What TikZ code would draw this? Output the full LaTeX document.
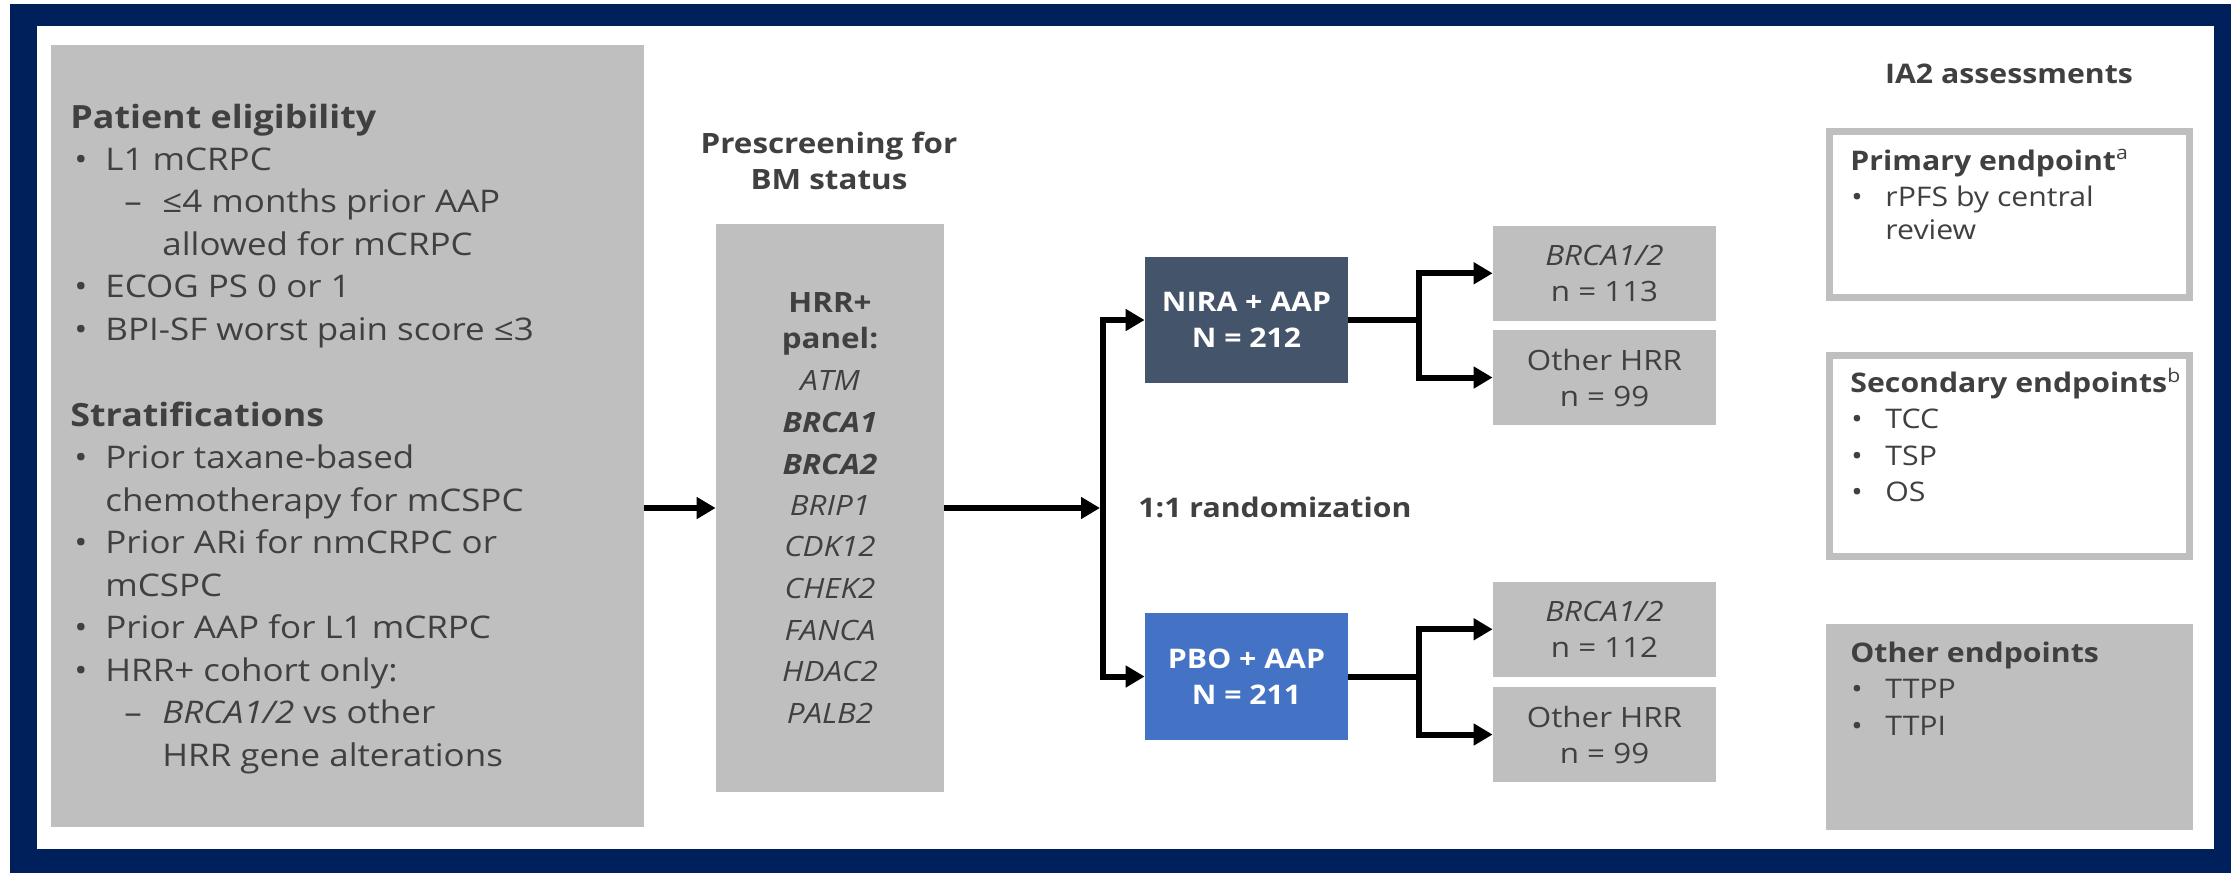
\documentclass[tikz,border=0pt]{standalone}
\usepackage{fontspec}
\setmainfont{Open Sans}[FakeStretch=1.12]
\usetikzlibrary{arrows.meta}
\definecolor{navy}{HTML}{00205B}
\definecolor{boxgray}{HTML}{BFBFBF}
\definecolor{txt}{HTML}{404040}
\definecolor{niracol}{HTML}{44546A}
\definecolor{pbocol}{HTML}{4472C4}
\begin{document}
\begin{tikzpicture}[x=0.5pt,y=-0.5pt,
  graybox/.style={fill=boxgray,draw=none,inner sep=0pt},
  armbox/.style={draw=none,inner sep=0pt,minimum width=101.5pt,minimum height=63pt,
    text=white,align=center,font=\fontsize{13.5pt}{18pt}\selectfont\bfseries},
  subbox/.style={graybox,minimum width=111.5pt,minimum height=47.25pt,
    text=txt,align=center,font=\fontsize{14pt}{18pt}\selectfont},
  framebox/.style={draw=boxgray,line width=3.5pt,fill=white,inner sep=0pt,
    minimum width=180pt},
  ln/.style={anchor=base west,inner sep=0pt,text=txt,font=\fontsize{15.6pt}{21pt}\selectfont},
  hd/.style={ln,font=\fontsize{16pt}{21pt}\selectfont\bfseries},
  gn/.style={anchor=base,inner sep=0pt,text=txt,font=\fontsize{14pt}{18pt}\selectfont\itshape},
  gb/.style={gn,font=\fontsize{14pt}{18pt}\selectfont\bfseries\itshape},
  ttl/.style={anchor=base,inner sep=0pt,text=txt,font=\fontsize{14pt}{18pt}\selectfont\bfseries},
  rl/.style={anchor=base west,inner sep=0pt,text=txt,font=\fontsize{13.5pt}{18pt}\selectfont},
  rh/.style={rl,font=\fontsize{13.5pt}{18pt}\selectfont\bfseries},
  arr/.style={line width=3pt,line join=miter,-{Triangle[length=9.5pt,width=10.5pt]}}]
\useasboundingbox (0,0) rectangle (2231,873);
% frame
\fill[white] (0,0) rectangle (2231,873);
\fill[navy] (10,4) rectangle (2231,873);
\fill[white] (37,26) rectangle (2214,849);

% left box
\node[graybox,minimum width=296.5pt,minimum height=391pt] (elig) at (347.5,436) {};
\node[hd] (eh1) at (70,128) {Patient eligibility};
\node[ln] (eb1) at (74,170) {•};  \node[ln] (e1) at (105,170) {L1 mCRPC};
\node[ln] (ed1) at (124,212.5) {–}; \node[ln] (e2) at (162,212.5) {≤4 months prior AAP};
\node[ln] (e3) at (162,255) {allowed for mCRPC};
\node[ln] (eb2) at (74,297.5) {•};  \node[ln] (e4) at (105,297.5) {ECOG PS 0 or 1};
\node[ln] (eb3) at (74,340) {•};  \node[ln] (e5) at (105,340) {BPI-SF worst pain score ≤3};
\node[hd] (eh2) at (70,426) {Stratifications};
\node[ln] (sb1) at (74,468) {•};  \node[ln] (s1) at (105,468) {Prior taxane-based};
\node[ln] (s2) at (105,511) {chemotherapy for mCSPC};
\node[ln] (sb2) at (74,553) {•};  \node[ln] (s3) at (105,553) {Prior ARi for nmCRPC or};
\node[ln] (s4) at (105,596) {mCSPC};
\node[ln] (sb3) at (74,638) {•};  \node[ln] (s5) at (105,638) {Prior AAP for L1 mCRPC};
\node[ln] (sb4) at (74,681) {•};  \node[ln] (s6) at (105,681) {HRR+ cohort only:};
\node[ln] (sd1) at (124,723) {–}; \node[ln] (s7) at (162,723) {\textit{BRCA1/2} vs other};
\node[ln] (s8) at (162,766) {HRR gene alterations};

% prescreening
\node[ttl] (pt1) at (829,153.6) {Prescreening for};
\node[ttl] (pt2) at (829,189) {BM status};
\node[graybox,minimum width=114pt,minimum height=284pt] (pre) at (830,508) {};
\node[ttl] (g0) at (830,312) {HRR+};
\node[ttl] (g00) at (830,348) {panel:};
\node[gn] (g1) at (830,390) {ATM};
\node[gb] (g2) at (830,432) {BRCA1};
\node[gb] (g3) at (830,474) {BRCA2};
\node[gn] (g4) at (830,515) {BRIP1};
\node[gn] (g5) at (830,556) {CDK12};
\node[gn] (g6) at (830,598) {CHEK2};
\node[gn] (g7) at (830,640) {FANCA};
\node[gn] (g8) at (830,681) {HDAC2};
\node[gn] (g9) at (830,723) {PALB2};

% arms
\node[armbox,fill=niracol] (nira) at (1246.5,320) {NIRA + AAP\\N = 212};
\node[armbox,fill=pbocol,minimum height=63.5pt] (pbo) at (1246.5,676.5) {PBO + AAP\\N = 211};
\node[anchor=base west,inner sep=0pt,text=txt,font=\fontsize{13.5pt}{18pt}\selectfont\bfseries] (rand) at (1138,517.6) {1:1 randomization};

% subgroups
\node[subbox] (b1) at (1604.5,273.25) {\textit{BRCA1/2}\\n = 113};
\node[subbox,minimum height=47.5pt] (o1) at (1604.5,377.5) {Other HRR\\n = 99};
\node[subbox] (b2) at (1604.5,629.25) {\textit{BRCA1/2}\\n = 112};
\node[subbox,minimum height=47.5pt] (o2) at (1604.5,734.5) {Other HRR\\n = 99};

% connectors
\coordinate (split) at (1103,508);
\draw[arr] (elig.east |- pre.west) -- (pre.west);
\draw[arr,shorten >=1.5pt] (pre.east) -- (split);
\draw[arr] (split) |- (nira.west);
\draw[arr] (split) |- (pbo.west);
\draw[arr] (nira.east) -- ++(71,0) |- (b1.west);
\draw[arr] (nira.east) -- ++(71,0) |- (o1.west);
\draw[arr] (pbo.east) -- ++(71,0) |- (b2.west);
\draw[arr] (pbo.east) -- ++(71,0) |- (o2.west);

% right column
\node[ttl,font=\fontsize{13.5pt}{18pt}\selectfont\bfseries] (ia2) at (2009,83.5) {IA2 assessments};
\node[framebox,minimum height=83pt] (prim) at (2009.5,214.5) {};
\node[rh] (p0) at (1850,170) {Primary endpoint\textsuperscript{\normalfont a}};
\node[rl] (pb1) at (1851,206) {•}; \node[rl] (p1) at (1885,206) {rPFS by central};
\node[rl] (p2) at (1885,239) {review};
\node[framebox,minimum height=100.5pt] (sec) at (2009.5,456) {};
\node[rh] (q0) at (1850,392.5) {Secondary endpoints\textsuperscript{\normalfont b}};
\node[rl] (qb1) at (1851,428.7) {•}; \node[rl] (q1) at (1885,428.7) {TCC};
\node[rl] (qb2) at (1851,465) {•}; \node[rl] (q2) at (1885,465) {TSP};
\node[rl] (qb3) at (1851,501) {•}; \node[rl] (q3) at (1885,501) {OS};
\node[graybox,minimum width=183.5pt,minimum height=103pt] (oth) at (2009.5,727) {};
\node[rh] (r0) at (1850,662.6) {Other endpoints};
\node[rl] (rb1) at (1851,698.8) {•}; \node[rl] (r1) at (1885,698.8) {TTPP};
\node[rl] (rb2) at (1851,735) {•}; \node[rl] (r2) at (1885,735) {TTPI};
\end{tikzpicture}
\end{document}
